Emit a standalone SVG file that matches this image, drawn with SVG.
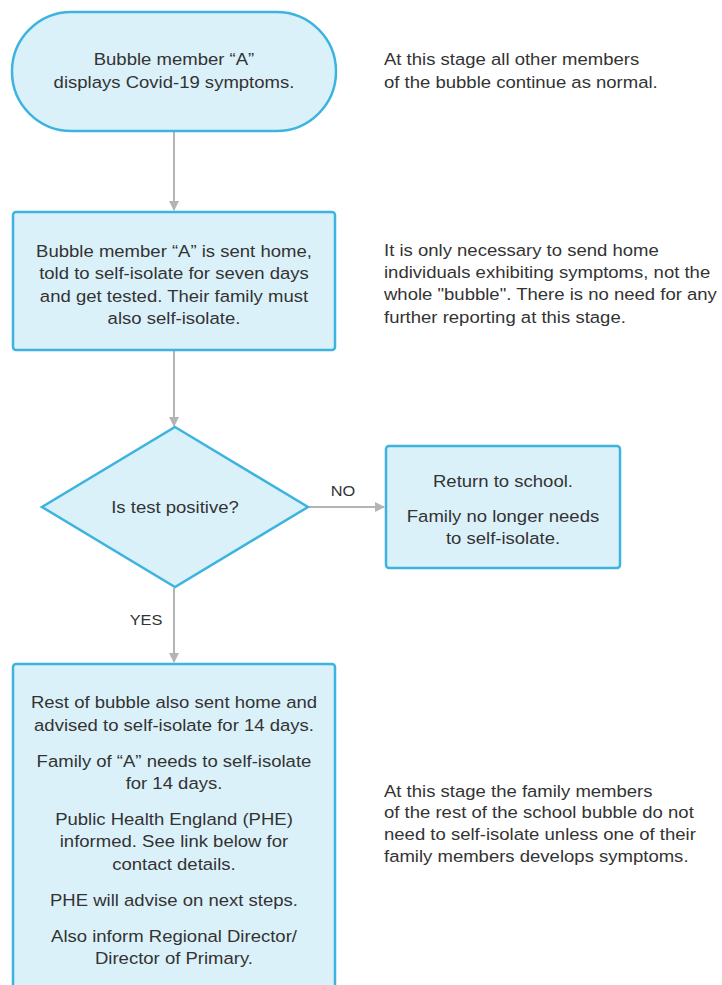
<svg xmlns="http://www.w3.org/2000/svg" width="722" height="985" viewBox="0 0 722 985">
<style>
text{font-family:"Liberation Sans",Arial,sans-serif;font-size:17px;fill:#333}
.c{text-anchor:middle}
.lbl{font-size:15px}
.node{fill:#dbf1fa;stroke:#3db4df;stroke-width:2.5}
.edge{stroke:#b4b4b4;stroke-width:2;fill:none}
</style>
<defs>
<marker id="ah" viewBox="0 0 10 10" refX="9" refY="5" markerWidth="10" markerHeight="10" markerUnits="userSpaceOnUse" orient="auto">
<path d="M0,0 L10,5 L0,10 z" fill="#b4b4b4"/>
</marker>
</defs>
<rect width="722" height="985" fill="#fff"/>
<g id="connectors">
<line class="edge" x1="174" y1="132" x2="174" y2="210" marker-end="url(#ah)"/>
<line class="edge" x1="174" y1="351" x2="174" y2="426" marker-end="url(#ah)"/>
<line class="edge" x1="308" y1="507" x2="384" y2="507" marker-end="url(#ah)"/>
<line class="edge" x1="174" y1="588" x2="174" y2="662" marker-end="url(#ah)"/>
<text x="343" y="496" class="c lbl" transform="matrix(1.09,0,0,1,-30.87,0)">NO</text>
<text x="146" y="625" class="c lbl" transform="matrix(1.09,0,0,1,-13.14,0)">YES</text>
</g>
<g id="start">
<rect class="node" x="12" y="12" width="324" height="119" rx="59.5"/>
<g transform="matrix(1.09,0,0,1,-15.66,0)">
<text x="174" y="65" class="c">Bubble member “A”</text>
<text x="174" y="88" class="c">displays Covid-19 symptoms.</text>
</g>
</g>
<g id="sent-home">
<rect class="node" x="13" y="212" width="322" height="138" rx="3"/>
<g transform="matrix(1.09,0,0,1,-15.66,0)">
<text x="174" y="257" class="c">Bubble member “A” is sent home,</text>
<text x="174" y="279" class="c">told to self-isolate for seven days</text>
<text x="174" y="302" class="c">and get tested. Their family must</text>
<text x="174" y="324" class="c">also self-isolate.</text>
</g>
</g>
<g id="decision">
<polygon class="node" points="175,427 308,507 175,587 42,507"/>
<text x="175" y="513" class="c" transform="matrix(1.09,0,0,1,-15.75,0)">Is test positive?</text>
</g>
<g id="return">
<rect class="node" x="386" y="446" width="234" height="122" rx="3"/>
<g transform="matrix(1.09,0,0,1,-45.27,0)">
<text x="503" y="487" class="c">Return to school.</text>
<text x="503" y="522" class="c">Family no longer needs</text>
<text x="503" y="544" class="c">to self-isolate.</text>
</g>
</g>
<g id="positive">
<rect class="node" x="13" y="664" width="322" height="340" rx="3"/>
<g transform="matrix(1.09,0,0,1,-15.66,0)">
<text x="174" y="708" class="c">Rest of bubble also sent home and</text>
<text x="174" y="731" class="c">advised to self-isolate for 14 days.</text>
<text x="174" y="767" class="c">Family of “A” needs to self-isolate</text>
<text x="174" y="789" class="c">for 14 days.</text>
<text x="174" y="825" class="c">Public Health England (PHE)</text>
<text x="174" y="847" class="c">informed. See link below for</text>
<text x="174" y="870" class="c">contact details.</text>
<text x="174" y="906" class="c">PHE will advise on next steps.</text>
<text x="174" y="942" class="c">Also inform Regional Director/</text>
<text x="174" y="964" class="c">Director of Primary.</text>
</g>
</g>
<g id="note1" transform="matrix(1.09,0,0,1,-34.56,0)">
<text x="384" y="65">At this stage all other members</text>
<text x="384" y="88">of the bubble continue as normal.</text>
</g>
<g id="note2" transform="matrix(1.09,0,0,1,-34.56,0)">
<text x="384" y="256">It is only necessary to send home</text>
<text x="384" y="278">individuals exhibiting symptoms, not the</text>
<text x="384" y="300">whole "bubble". There is no need for any</text>
<text x="384" y="323">further reporting at this stage.</text>
</g>
<g id="note3" transform="matrix(1.09,0,0,1,-34.56,0)">
<text x="384" y="797">At this stage the family members</text>
<text x="384" y="818">of the rest of the school bubble do not</text>
<text x="384" y="840">need to self-isolate unless one of their</text>
<text x="384" y="862">family members develops symptoms.</text>
</g>
</svg>
